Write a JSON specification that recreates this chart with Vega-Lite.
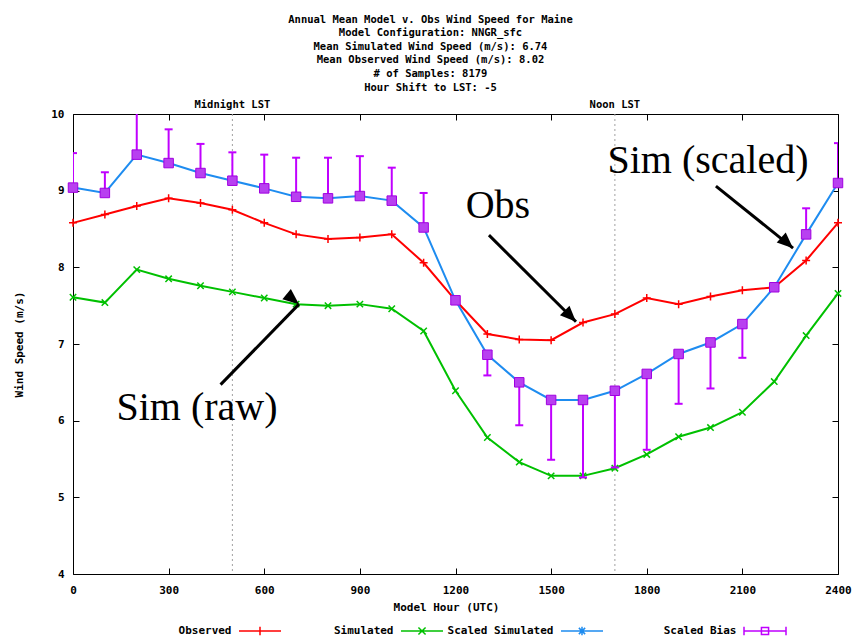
{
  "$schema": "https://vega.github.io/schema/vega-lite/v6.json",
  "width": 765,
  "height": 460,
  "autosize": {"type": "none"},
  "padding": {"left": 73, "top": 114, "right": 16, "bottom": 65},
  "background": "white",
  "title": {
    "text": ["Annual Mean Model v. Obs Wind Speed for Maine", "Model Configuration: NNGR_sfc", "Mean Simulated Wind Speed (m/s): 6.74", "Mean Observed Wind Speed (m/s): 8.02", "# of Samples: 8179", "Hour Shift to LST: -5"],
    "font": "DejaVu Sans Mono", "fontWeight": "bold", "fontSize": 10.5, "lineHeight": 13.6,
    "anchor": "middle", "dx": -25, "offset": 7, "color": "black"
  },
  "config": {
    "view": {"stroke": "black", "strokeWidth": 1},
    "axis": {
      "labelFont": "DejaVu Sans Mono", "labelFontWeight": "bold", "labelFontSize": 11, "labelColor": "black",
      "titleFont": "DejaVu Sans Mono", "titleFontWeight": "bold", "titleFontSize": 11, "titleColor": "black",
      "domain": false, "grid": false, "tickColor": "black", "tickSize": -6, "tickWidth": 1, "labelFlush": false
    },
    "legend": {
      "orient": "none", "legendX": 165, "legendY": 495, "direction": "horizontal", "columns": 4,
      "columnPadding": 1, "padding": 0, "title": null, "gridAlign": "none",
      "symbolSize": 1764, "symbolStrokeWidth": 1.5, "labelAlign": "right", "labelOffset": -50.5,
      "labelFont": "DejaVu Sans Mono", "labelFontWeight": "bold", "labelFontSize": 11, "labelColor": "black", "labelLimit": 0
    }
  },
  "datasets": {
    "lines": [
      {"hour": 0, "series": "Observed", "speed": 8.58}, {"hour": 100, "series": "Observed", "speed": 8.69}, {"hour": 200, "series": "Observed", "speed": 8.80}, {"hour": 300, "series": "Observed", "speed": 8.90}, {"hour": 400, "series": "Observed", "speed": 8.84}, {"hour": 500, "series": "Observed", "speed": 8.75}, {"hour": 600, "series": "Observed", "speed": 8.58}, {"hour": 700, "series": "Observed", "speed": 8.43}, {"hour": 800, "series": "Observed", "speed": 8.37}, {"hour": 900, "series": "Observed", "speed": 8.39}, {"hour": 1000, "series": "Observed", "speed": 8.43}, {"hour": 1100, "series": "Observed", "speed": 8.06}, {"hour": 1200, "series": "Observed", "speed": 7.57}, {"hour": 1300, "series": "Observed", "speed": 7.13}, {"hour": 1400, "series": "Observed", "speed": 7.06}, {"hour": 1500, "series": "Observed", "speed": 7.05}, {"hour": 1600, "series": "Observed", "speed": 7.28}, {"hour": 1700, "series": "Observed", "speed": 7.39}, {"hour": 1800, "series": "Observed", "speed": 7.60}, {"hour": 1900, "series": "Observed", "speed": 7.52}, {"hour": 2000, "series": "Observed", "speed": 7.62}, {"hour": 2100, "series": "Observed", "speed": 7.70}, {"hour": 2200, "series": "Observed", "speed": 7.74}, {"hour": 2300, "series": "Observed", "speed": 8.09}, {"hour": 2400, "series": "Observed", "speed": 8.58},
      {"hour": 0, "series": "Simulated", "speed": 7.61}, {"hour": 100, "series": "Simulated", "speed": 7.54}, {"hour": 200, "series": "Simulated", "speed": 7.97}, {"hour": 300, "series": "Simulated", "speed": 7.85}, {"hour": 400, "series": "Simulated", "speed": 7.76}, {"hour": 500, "series": "Simulated", "speed": 7.68}, {"hour": 600, "series": "Simulated", "speed": 7.60}, {"hour": 700, "series": "Simulated", "speed": 7.52}, {"hour": 800, "series": "Simulated", "speed": 7.50}, {"hour": 900, "series": "Simulated", "speed": 7.52}, {"hour": 1000, "series": "Simulated", "speed": 7.46}, {"hour": 1100, "series": "Simulated", "speed": 7.17}, {"hour": 1200, "series": "Simulated", "speed": 6.39}, {"hour": 1300, "series": "Simulated", "speed": 5.78}, {"hour": 1400, "series": "Simulated", "speed": 5.46}, {"hour": 1500, "series": "Simulated", "speed": 5.28}, {"hour": 1600, "series": "Simulated", "speed": 5.28}, {"hour": 1700, "series": "Simulated", "speed": 5.38}, {"hour": 1800, "series": "Simulated", "speed": 5.56}, {"hour": 1900, "series": "Simulated", "speed": 5.79}, {"hour": 2000, "series": "Simulated", "speed": 5.91}, {"hour": 2100, "series": "Simulated", "speed": 6.11}, {"hour": 2200, "series": "Simulated", "speed": 6.51}, {"hour": 2300, "series": "Simulated", "speed": 7.11}, {"hour": 2400, "series": "Simulated", "speed": 7.66},
      {"hour": 0, "series": "Scaled Simulated", "speed": 9.04}, {"hour": 100, "series": "Scaled Simulated", "speed": 8.97}, {"hour": 200, "series": "Scaled Simulated", "speed": 9.47}, {"hour": 300, "series": "Scaled Simulated", "speed": 9.36}, {"hour": 400, "series": "Scaled Simulated", "speed": 9.23}, {"hour": 500, "series": "Scaled Simulated", "speed": 9.13}, {"hour": 600, "series": "Scaled Simulated", "speed": 9.03}, {"hour": 700, "series": "Scaled Simulated", "speed": 8.92}, {"hour": 800, "series": "Scaled Simulated", "speed": 8.90}, {"hour": 900, "series": "Scaled Simulated", "speed": 8.93}, {"hour": 1000, "series": "Scaled Simulated", "speed": 8.87}, {"hour": 1100, "series": "Scaled Simulated", "speed": 8.52}, {"hour": 1200, "series": "Scaled Simulated", "speed": 7.57}, {"hour": 1300, "series": "Scaled Simulated", "speed": 6.86}, {"hour": 1400, "series": "Scaled Simulated", "speed": 6.50}, {"hour": 1500, "series": "Scaled Simulated", "speed": 6.27}, {"hour": 1600, "series": "Scaled Simulated", "speed": 6.27}, {"hour": 1700, "series": "Scaled Simulated", "speed": 6.39}, {"hour": 1800, "series": "Scaled Simulated", "speed": 6.61}, {"hour": 1900, "series": "Scaled Simulated", "speed": 6.87}, {"hour": 2000, "series": "Scaled Simulated", "speed": 7.02}, {"hour": 2100, "series": "Scaled Simulated", "speed": 7.26}, {"hour": 2200, "series": "Scaled Simulated", "speed": 7.74}, {"hour": 2300, "series": "Scaled Simulated", "speed": 8.43}, {"hour": 2400, "series": "Scaled Simulated", "speed": 9.10}
    ],
    "bias": [
      {"hour": 0, "scaled": 9.04, "end": 9.49}, {"hour": 100, "scaled": 8.97, "end": 9.24}, {"hour": 200, "scaled": 9.47, "end": 10.14}, {"hour": 300, "scaled": 9.36, "end": 9.80}, {"hour": 400, "scaled": 9.23, "end": 9.61}, {"hour": 500, "scaled": 9.13, "end": 9.50}, {"hour": 600, "scaled": 9.03, "end": 9.47}, {"hour": 700, "scaled": 8.92, "end": 9.43}, {"hour": 800, "scaled": 8.90, "end": 9.43}, {"hour": 900, "scaled": 8.93, "end": 9.45}, {"hour": 1000, "scaled": 8.87, "end": 9.30}, {"hour": 1100, "scaled": 8.52, "end": 8.97}, {"hour": 1200, "scaled": 7.57, "end": 7.57}, {"hour": 1300, "scaled": 6.86, "end": 6.59}, {"hour": 1400, "scaled": 6.50, "end": 5.94}, {"hour": 1500, "scaled": 6.27, "end": 5.49}, {"hour": 1600, "scaled": 6.27, "end": 5.26}, {"hour": 1700, "scaled": 6.39, "end": 5.39}, {"hour": 1800, "scaled": 6.61, "end": 5.62}, {"hour": 1900, "scaled": 6.87, "end": 6.22}, {"hour": 2000, "scaled": 7.02, "end": 6.42}, {"hour": 2100, "scaled": 7.26, "end": 6.82}, {"hour": 2200, "scaled": 7.74, "end": 7.74}, {"hour": 2300, "scaled": 8.43, "end": 8.77}, {"hour": 2400, "scaled": 9.10, "end": 9.62}
    ],
    "marks": [
      {"hour": 500, "label": "Midnight LST"},
      {"hour": 1700, "label": "Noon LST"}
    ],
    "notes": [
      {"label": "Obs", "hour": 1333, "speed": 8.64},
      {"label": "Sim (scaled)", "hour": 1992, "speed": 9.23},
      {"label": "Sim (raw)", "hour": 389, "speed": 6.01}
    ],
    "arrows": [
      {"name": "obs", "h0": 1305, "s0": 8.42, "h1": 1578, "s1": 7.29},
      {"name": "scaled", "h0": 2017, "s0": 9.06, "h1": 2259, "s1": 8.25},
      {"name": "raw", "h0": 463, "s0": 6.47, "h1": 709, "s1": 7.52}
    ]
  },
  "layer": [
    {
      "data": {"name": "marks"},
      "mark": {"type": "rule", "color": "#a0a0a0", "strokeWidth": 1, "strokeDash": [2, 3]},
      "encoding": {
        "x": {"field": "hour", "type": "quantitative", "scale": {"domain": [0, 2400], "nice": false},
              "axis": {"orient": "top", "values": [0, 300, 600, 900, 1200, 1500, 1800, 2100, 2400], "labels": false, "title": null}}
      }
    },
    {
      "data": {"name": "marks"},
      "mark": {"type": "text", "font": "DejaVu Sans Mono", "fontWeight": "bold", "fontSize": 10.5, "color": "black", "baseline": "alphabetic", "dy": -6, "clip": false},
      "encoding": {
        "x": {"field": "hour", "type": "quantitative", "axis": null},
        "y": {"datum": 10, "type": "quantitative", "axis": null},
        "text": {"field": "label"}
      }
    },
    {
      "data": {"name": "lines"},
      "mark": {"type": "line", "strokeWidth": 2},
      "encoding": {
        "x": {"field": "hour", "type": "quantitative", "scale": {"domain": [0, 2400], "nice": false},
              "axis": {"values": [0, 300, 600, 900, 1200, 1500, 1800, 2100, 2400], "format": "d", "labelPadding": 16, "title": "Model Hour (UTC)", "titlePadding": 6, "titleX": 373}},
        "y": {"field": "speed", "type": "quantitative", "scale": {"domain": [4, 10], "nice": false, "zero": false},
              "axis": {"values": [4, 5, 6, 7, 8, 9, 10], "labelPadding": 15, "title": "Wind Speed (m/s)", "titlePadding": 26}},
        "color": {
          "field": "series", "type": "nominal",
          "scale": {"domain": ["Observed", "Simulated", "Scaled Simulated", "Scaled Bias"], "range": ["#ff0000", "#00c000", "#1e8cf0", "#c000ff"]},
          "legend": {
            "labelExpr": "pad(datum.label, datum.label === 'Scaled Bias' ? 18 : datum.label === 'Simulated' ? 15 : 16, '\u2800', 'left')",
            "encode": {"symbols": {"update": {
              "shape": {"signal": "datum.value === 'Observed' ? 'M-1,0H1M0,-0.2V0.2' : datum.value === 'Simulated' ? 'M-1,0H1M-0.17,-0.17L0.17,0.17M-0.17,0.17L0.17,-0.17' : datum.value === 'Scaled Simulated' ? 'M-1,0H1M0,-0.2V0.2M-0.15,-0.15L0.15,0.15M-0.15,0.15L0.15,-0.15' : 'M-1,0H1M-1,-0.2V0.2M1,-0.2V0.2M-0.17,-0.17H0.17V0.17H-0.17Z'"},
              "fill": {"value": "transparent"}
            }}}
          }
        }
      }
    },
    {
      "data": {"name": "lines"},
      "mark": {"type": "point", "filled": false, "size": 64, "strokeWidth": 1.5, "opacity": 1},
      "encoding": {
        "x": {"field": "hour", "type": "quantitative", "axis": null},
        "y": {"field": "speed", "type": "quantitative", "axis": null},
        "color": {"field": "series", "type": "nominal"},
        "shape": {"field": "series", "type": "nominal", "legend": null,
                  "scale": {"domain": ["Observed", "Simulated", "Scaled Simulated"], "range": ["M-1,0H1M0,-1V1", "M-0.8,-0.8L0.8,0.8M-0.8,0.8L0.8,-0.8", "M-1,0H1M0,-1V1M-0.7,-0.7L0.7,0.7M-0.7,0.7L0.7,-0.7"]}}
      }
    },
    {
      "data": {"name": "bias"},
      "mark": {"type": "rule", "color": "#c000ff", "strokeWidth": 2, "clip": true},
      "encoding": {
        "x": {"field": "hour", "type": "quantitative", "axis": null},
        "y": {"field": "scaled", "type": "quantitative", "axis": null},
        "y2": {"field": "end"}
      }
    },
    {
      "data": {"name": "bias"},
      "mark": {"type": "point", "shape": "M-1,0H1", "size": 64, "filled": false, "color": "#c000ff", "strokeWidth": 2, "opacity": 1, "clip": true},
      "encoding": {
        "x": {"field": "hour", "type": "quantitative", "axis": null},
        "y": {"field": "end", "type": "quantitative", "axis": null}
      }
    },
    {
      "data": {"name": "bias"},
      "mark": {"type": "point", "shape": "square", "size": 90, "filled": true, "fill": "#b840f0", "stroke": "#a000e0", "strokeWidth": 1, "opacity": 1},
      "encoding": {
        "x": {"field": "hour", "type": "quantitative", "axis": null},
        "y": {"field": "scaled", "type": "quantitative",
              "axis": {"orient": "right", "values": [4, 5, 6, 7, 8, 9, 10], "labels": false, "title": null}}
      }
    },
    {
      "data": {"name": "arrows"},
      "mark": {"type": "rule", "color": "black", "strokeWidth": 3, "clip": false},
      "encoding": {
        "x": {"field": "h0", "type": "quantitative", "axis": null},
        "y": {"field": "s0", "type": "quantitative", "axis": null},
        "x2": {"field": "h1"},
        "y2": {"field": "s1"}
      }
    },
    {
      "data": {"name": "arrows"},
      "mark": {"type": "point", "shape": "M0,0L-0.55,1.3L0.55,1.3Z", "size": 600, "filled": true, "color": "black", "opacity": 1, "clip": false},
      "encoding": {
        "x": {"field": "h1", "type": "quantitative", "axis": null},
        "y": {"field": "s1", "type": "quantitative", "axis": null},
        "angle": {"field": "name", "type": "nominal", "legend": null, "scale": {"domain": ["obs", "scaled", "raw"], "range": [135, 129, 44]}}
      }
    },
    {
      "data": {"name": "notes"},
      "mark": {"type": "text", "font": "Liberation Serif", "fontSize": 40, "color": "black", "align": "center", "baseline": "alphabetic", "clip": false},
      "encoding": {
        "x": {"field": "hour", "type": "quantitative", "axis": null},
        "y": {"field": "speed", "type": "quantitative", "axis": null},
        "text": {"field": "label"}
      }
    }
  ],
  "resolve": {"axis": {"x": "independent", "y": "independent"}}
}
